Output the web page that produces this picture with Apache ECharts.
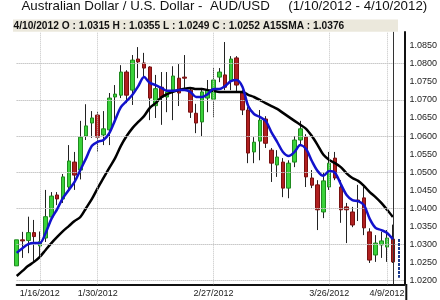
<!DOCTYPE html>
<html><head><meta charset="utf-8">
<script src="https://cdn.jsdelivr.net/npm/echarts@6/dist/echarts.min.js"></script>
<style>html,body{margin:0;padding:0;background:#fff}#c{width:440px;height:300px}</style>
</head><body><div id="c"></div>
<script>
const categories = [
'1/10/2012','1/11/2012','1/12/2012','1/13/2012','1/16/2012','1/17/2012','1/18/2012','1/19/2012','1/20/2012',
'1/23/2012','1/24/2012','1/25/2012','1/26/2012','1/27/2012','1/30/2012','1/31/2012',
'2/1/2012','2/2/2012','2/3/2012','2/6/2012','2/7/2012','2/8/2012','2/9/2012','2/10/2012',
'2/13/2012','2/14/2012','2/15/2012','2/16/2012','2/17/2012','2/20/2012','2/21/2012','2/22/2012','2/23/2012','2/24/2012',
'2/27/2012','2/28/2012','2/29/2012','3/1/2012','3/2/2012','3/5/2012','3/6/2012','3/7/2012','3/8/2012','3/9/2012',
'3/12/2012','3/13/2012','3/14/2012','3/15/2012','3/16/2012','3/19/2012','3/20/2012','3/21/2012','3/22/2012','3/23/2012',
'3/26/2012','3/27/2012','3/28/2012','3/29/2012','3/30/2012','4/2/2012','4/3/2012','4/4/2012','4/5/2012','4/6/2012',
'4/9/2012','4/10/2012'];
const padCategories = [' ', '  '];

const openValues = [
1.0241,1.0313,1.0311,1.0333,1.0296,1.0318,1.0376,1.0437,1.0426,1.0459,
1.0528,1.0506,1.0600,1.0636,1.0658,1.0603,1.0617,1.0708,1.0713,1.0777,
1.0727,1.0813,1.0802,1.0791,1.0684,1.0735,1.0708,1.0727,1.0760,1.0763,
1.0727,1.0663,1.0639,1.0705,1.0702,1.0763,1.0769,1.0752,1.0816,1.0719,
1.0672,1.0556,1.0586,1.0647,1.0561,1.0520,1.0528,1.0456,1.0528,1.0589,
1.0597,1.0484,1.0465,1.0390,1.0459,1.0539,1.0459,1.0404,1.0390,1.0423,
1.0429,1.0335,1.0271,1.0299,1.0293,1.0315];
const closeValues = [
1.0313,1.0310,1.0333,1.0322,1.0308,1.0377,1.0434,1.0426,1.0487,1.0531,
1.0492,1.0597,1.0628,1.0650,1.0597,1.0620,1.0705,1.0716,1.0777,1.0713,
1.0810,1.0805,1.0788,1.0705,1.0731,1.0708,1.0722,1.0766,1.0719,1.0760,
1.0666,1.0636,1.0722,1.0727,1.0755,1.0777,1.0735,1.0813,1.0741,1.0672,
1.0553,1.0583,1.0644,1.0580,1.0525,1.0542,1.0456,1.0525,1.0589,1.0620,
1.0487,1.0464,1.0396,1.0476,1.0525,1.0484,1.0396,1.0396,1.0354,1.0420,
1.0346,1.0257,1.0304,1.0310,1.0318,1.0252];
const lowValues = [
1.0230,1.0263,1.0276,1.0252,1.0262,1.0307,1.0368,1.0409,1.0415,1.0451,
1.0451,1.0480,1.0589,1.0595,1.0556,1.0575,1.0575,1.0644,1.0705,1.0691,
1.0686,1.0760,1.0763,1.0644,1.0650,1.0631,1.0666,1.0644,1.0683,1.0733,
1.0650,1.0608,1.0600,1.0666,1.0652,1.0749,1.0727,1.0727,1.0722,1.0658,
1.0525,1.0525,1.0533,1.0567,1.0473,1.0487,1.0431,1.0428,1.0514,1.0575,
1.0459,1.0456,1.0340,1.0373,1.0451,1.0478,1.0360,1.0304,1.0348,1.0365,
1.0326,1.0249,1.0252,1.0263,1.0252,1.0249];
const highValues = [
1.0345,1.0335,1.0377,1.0368,1.0336,1.0451,1.0445,1.0445,1.0495,1.0575,
1.0556,1.0642,1.0688,1.0669,1.0667,1.0669,1.0719,1.0741,1.0796,1.0782,
1.0824,1.0846,1.0830,1.0793,1.0769,1.0777,1.0777,1.0793,1.0799,1.0824,
1.0733,1.0689,1.0733,1.0755,1.0788,1.0788,1.0860,1.0821,1.0821,1.0727,
1.0680,1.0597,1.0672,1.0655,1.0567,1.0561,1.0539,1.0533,1.0600,1.0642,
1.0605,1.0506,1.0478,1.0500,1.0556,1.0556,1.0478,1.0415,1.0404,1.0465,
1.0459,1.0345,1.0326,1.0335,1.0340,1.0355];

// blue short moving average
const fastAvgValues = [
1.0277,1.0290,1.0301,1.0304,1.0304,1.0332,1.0371,1.0398,1.0429,1.0451,
1.0473,1.0506,1.0539,1.0573,1.0584,1.0589,1.0608,1.0644,1.0680,1.0697,
1.0714,1.0738,1.0763,1.0747,1.0741,1.0733,1.0725,1.0725,1.0727,1.0727,
1.0722,1.0708,1.0708,1.0716,1.0730,1.0730,1.0738,1.0752,1.0755,1.0736,
1.0683,1.0661,1.0653,1.0642,1.0611,1.0584,1.0556,1.0545,1.0556,1.0575,
1.0564,1.0531,1.0503,1.0490,1.0503,1.0498,1.0467,1.0437,1.0423,1.0420,
1.0409,1.0371,1.0346,1.0340,1.0332,1.0315];
// black A15SMA
const sma15Values = [
1.0213,1.0227,1.0241,1.0252,1.0266,1.0285,1.0304,1.0321,1.0337,1.0351,
1.0365,1.0376,1.0401,1.0426,1.0456,1.0484,1.0512,1.0539,1.0573,1.0600,
1.0622,1.0639,1.0655,1.0678,1.0691,1.0707,1.0716,1.0722,1.0727,1.0731,
1.0733,1.0730,1.0730,1.0727,1.0725,1.0722,1.0722,1.0722,1.0722,1.0722,
1.0714,1.0708,1.0700,1.0691,1.0683,1.0675,1.0664,1.0653,1.0642,1.0631,
1.0620,1.0600,1.0575,1.0548,1.0534,1.0525,1.0514,1.0497,1.0484,1.0476,
1.0462,1.0445,1.0431,1.0415,1.0396,1.0376];

const yTickValues = [1.0200,1.0250,1.0300,1.0350,1.0400,1.0450,1.0500,1.0550,1.0600,1.0650,1.0700,1.0750,1.0800,1.0850];
const xLabelDates = ['1/16/2012','1/30/2012','2/27/2012','3/26/2012','4/9/2012'];
const markerRange = [1.0315, 1.0208];
const titleText = 'Australian Dollar / U.S. Dollar -  AUD/USD     (1/10/2012 - 4/10/2012)';
const infoText = '4/10/2012 O : 1.0315 H : 1.0355 L : 1.0249 C : 1.0252 A15SMA : 1.0376';

const FONT = '"Liberation Sans", Arial, sans-serif';
const fullOHLC = categories.map((c, i) => [openValues[i], closeValues[i], lowValues[i], highValues[i]]);
const bodyOHLC = categories.map((c, i) => {
  const o = openValues[i], cl = closeValues[i];
  return [o, cl, Math.min(o, cl), Math.max(o, cl)];
});
const lastDate = categories[categories.length - 1];

const chart = echarts.init(document.getElementById('c'), null, {renderer: 'canvas'});
chart.setOption({
  animation: false,
  backgroundColor: '#ffffff',
  grid: {left: 16.7, right: 33.5, top: 31.9, bottom: 15.7, containLabel: false},
  xAxis: {
    type: 'category', data: categories.concat(padCategories), boundaryGap: false,
    axisLine: {show: true, onZero: false, lineStyle: {color: '#111', width: 2}},
    axisTick: {show: false},
    axisLabel: {interval: (i, v) => xLabelDates.indexOf(v) >= 0, fontSize: 9, color: '#222', margin: 5, fontFamily: FONT},
    splitLine: {show: false}
  },
  yAxis: {
    type: 'value', position: 'right', min: 1.019, max: 1.0888, scale: true,
    axisLine: {show: true, lineStyle: {color: '#111', width: 2}},
    axisTick: {show: false},
    splitLine: {show: false},
    axisLabel: {customValues: yTickValues, formatter: v => v.toFixed(4), fontSize: 9, color: '#222', margin: 5, fontFamily: FONT}
  },
  graphic: [
    {type: 'text', left: 21.5, top: 0, style: {text: titleText, font: '13.3px ' + FONT, fill: '#111'}},
    {type: 'rect', shape: {x: 13, y: 19.5, width: 385, height: 12.2}, style: {fill: '#ebe8dc'}},
    {type: 'text', x: 13.5, y: 25.7, style: {text: infoText, font: 'bold 10.2px ' + FONT, fill: '#111', verticalAlign: 'middle'}},
    {type: 'line', shape: {x1: 406.3, y1: 284, x2: 406.3, y2: 300}, style: {stroke: '#111', lineWidth: 2}}
  ],
  series: [
    {
      type: 'line', data: [], z: 1, silent: true,
      markLine: {
        silent: true, symbol: 'none', label: {show: false},
        lineStyle: {color: '#c4c4c4', type: 'dotted', width: 1},
        data: yTickValues.map(v => ({yAxis: v})).concat(xLabelDates.map(d => ({xAxis: d})))
      }
    },
    {
      type: 'line', data: [], z: 6, silent: true,
      markLine: {
        silent: true, symbol: 'none', label: {show: false},
        data: [
          {xAxis: lastDate, lineStyle: {color: '#333', type: 'solid', width: 1}},
          [{coord: [padCategories[0], markerRange[0]], lineStyle: {color: '#1c3a8c', type: [3, 1], width: 2}},
           {coord: [padCategories[0], markerRange[1]]}]
        ]
      }
    },
    {
      name: 'wick', type: 'candlestick', data: fullOHLC, barWidth: 1, z: 2,
      itemStyle: {color: '#222', color0: '#222', borderColor: '#222', borderColor0: '#222', borderWidth: 1}
    },
    {
      name: 'body', type: 'candlestick', data: bodyOHLC, barWidth: 4, z: 3,
      itemStyle: {color: '#3ad23a', color0: '#b02020', borderColor: '#1f8a1f', borderColor0: '#7a1010', borderWidth: 1}
    },
    {
      name: 'A15SMA', type: 'line', data: sma15Values, symbol: 'none', smooth: 0.3, z: 4,
      lineStyle: {color: '#000', width: 2.5}
    },
    {
      name: 'fast', type: 'line', data: fastAvgValues, symbol: 'none', smooth: 0.3, z: 5,
      lineStyle: {color: '#1212cc', width: 2.5}
    }
  ]
});
</script></body></html>
